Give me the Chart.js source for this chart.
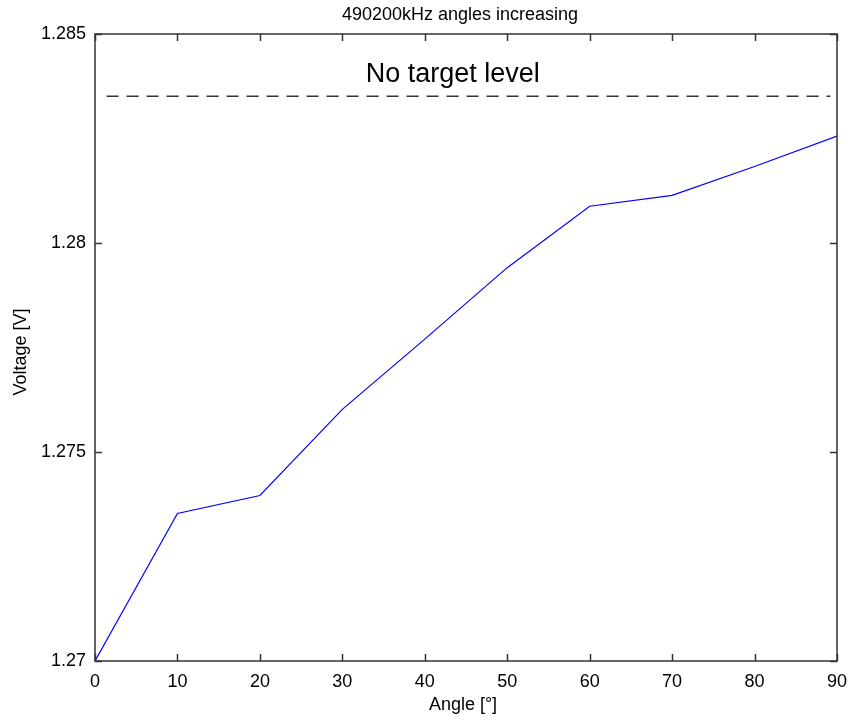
<!DOCTYPE html>
<html>
<head>
<meta charset="utf-8">
<script src="https://cdn.jsdelivr.net/npm/chart.js@4.4.0/dist/chart.umd.min.js"></script>
<style>
  html,body{margin:0;padding:0;background:#fff;}
  #wrap{width:849px;height:722px;position:relative;}
</style>
</head>
<body>
<div id="wrap"><canvas id="c" width="849" height="722"></canvas></div>
<script>
// ---- data ----
const angles = [0, 10, 20, 30, 40, 50, 60, 70, 80, 90];
const voltages = [1.27000, 1.27353, 1.27396, 1.27602, 1.27770, 1.27941, 1.28088, 1.28114, 1.28183, 1.28256];
const targetX = [1.4, 89.2];
const targetY = [1.28351, 1.28351];
const xTicks = [0, 10, 20, 30, 40, 50, 60, 70, 80, 90];
const yTicks = [1.27, 1.275, 1.28, 1.285];
const yTickLabels = ['1.27', '1.275', '1.28', '1.285'];
const titleText = '490200kHz angles increasing';
const xLabel = 'Angle [°]';
const yLabel = 'Voltage [V]';
const noteText = 'No target level';
const noteX = 43.4, noteY = 1.28403;

const FONT = 'Arial, "Liberation Sans", sans-serif';
const AXIS_COLOR = '#333333';

const framePlugin = {
  id: 'frame',
  afterDraw(chart) {
    const ctx = chart.ctx;
    const a = chart.chartArea;
    const xs = chart.scales.x, ys = chart.scales.y;
    ctx.save();
    ctx.strokeStyle = AXIS_COLOR;
    ctx.lineWidth = 1.5;
    ctx.strokeRect(a.left, a.top, a.right - a.left, a.bottom - a.top);
    const tl = 7;
    ctx.beginPath();
    xTicks.forEach(v => {
      const px = Math.round(xs.getPixelForValue(v)) + 0.5;
      ctx.moveTo(px, a.bottom); ctx.lineTo(px, a.bottom - tl);
      ctx.moveTo(px, a.top); ctx.lineTo(px, a.top + tl);
    });
    yTicks.forEach(v => {
      const py = Math.round(ys.getPixelForValue(v)) + 0.5;
      ctx.moveTo(a.left, py); ctx.lineTo(a.left + tl, py);
      ctx.moveTo(a.right, py); ctx.lineTo(a.right - tl, py);
    });
    ctx.stroke();

    // texts
    ctx.fillStyle = '#000';
    ctx.textAlign = 'center';
    ctx.textBaseline = 'middle';
    ctx.font = '18px ' + FONT;
    ctx.fillText(titleText, 460, 15);
    ctx.fillText(xLabel, 463, 705);
    ctx.save();
    ctx.translate(21, 352);
    ctx.rotate(-Math.PI / 2);
    ctx.fillText(yLabel, 0, 0);
    ctx.restore();

    ctx.font = '27px ' + FONT;
    ctx.fillText(noteText, xs.getPixelForValue(noteX), ys.getPixelForValue(noteY));
    ctx.restore();
  }
};

new Chart(document.getElementById('c'), {
  type: 'line',
  data: {
    datasets: [
      {
        data: angles.map((a, i) => ({x: a, y: voltages[i]})),
        borderColor: '#0000ff',
        borderWidth: 1.2,
        pointRadius: 0,
        tension: 0,
        fill: false
      },
      {
        data: targetX.map((a, i) => ({x: a, y: targetY[i]})),
        borderColor: '#333333',
        borderWidth: 1.5,
        borderDash: [12, 8],
        pointRadius: 0,
        fill: false
      }
    ]
  },
  options: {
    responsive: false,
    animation: false,
    layout: {padding: {top: 34, right: 12, left: 0, bottom: 0}},
    plugins: {legend: {display: false}, tooltip: {enabled: false}, title: {display: false}},
    scales: {
      x: {
        type: 'linear',
        min: 0, max: 90,
        afterBuildTicks: s => { s.ticks = xTicks.map(v => ({value: v})); },
        afterFit: s => { s.height = 61; s.paddingLeft = 0; s.paddingRight = 0; },
        grid: {display: false},
        border: {display: false},
        ticks: {
          color: '#000',
          font: {family: FONT, size: 18},
          padding: 2,
          maxRotation: 0,
          autoSkip: false,
          callback: v => String(v)
        }
      },
      y: {
        type: 'linear',
        min: 1.27, max: 1.285,
        afterBuildTicks: s => { s.ticks = yTicks.map(v => ({value: v})); },
        afterFit: s => { s.width = 95; s.paddingTop = 0; s.paddingBottom = 0; },
        grid: {display: false},
        border: {display: false},
        ticks: {
          color: '#000',
          font: {family: FONT, size: 18},
          padding: 1,
          autoSkip: false,
          callback: (v, i) => yTickLabels[i]
        }
      }
    }
  },
  plugins: [framePlugin]
});
</script>
</body>
</html>
